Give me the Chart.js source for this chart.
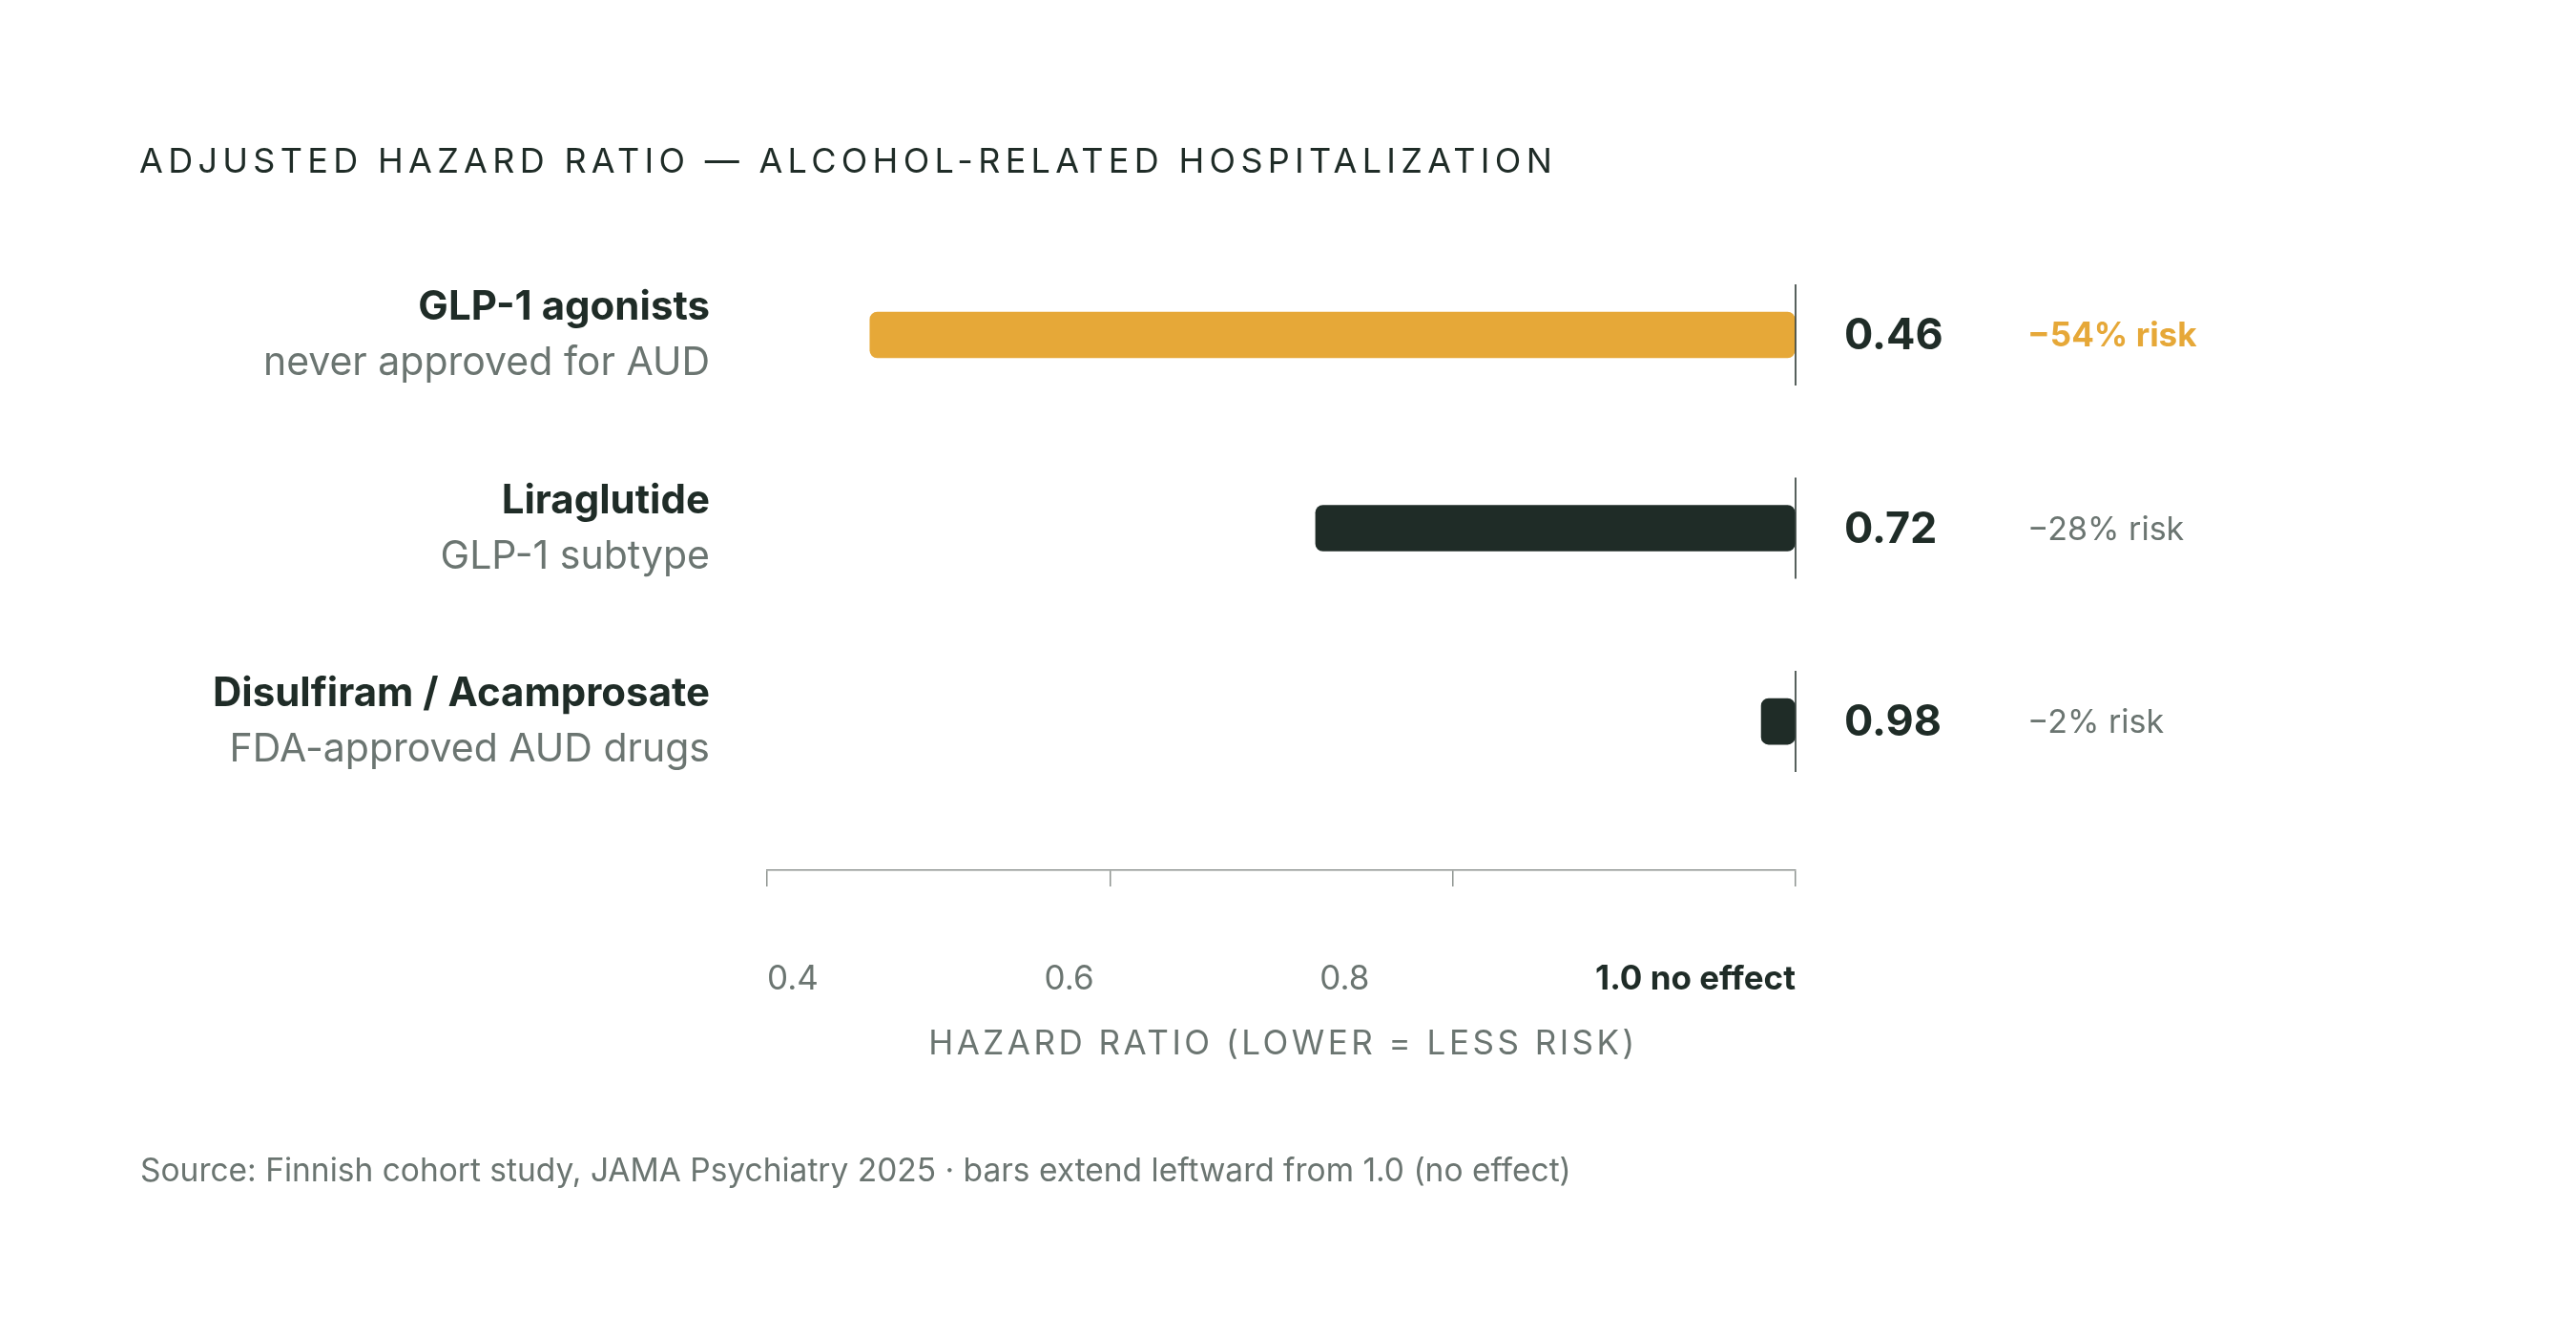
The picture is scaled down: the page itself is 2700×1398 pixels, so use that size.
<!DOCTYPE html>
<html>
<head>
<meta charset="utf-8">
<script src="https://cdn.jsdelivr.net/npm/chart.js@4.4.1/dist/chart.umd.min.js"></script>
<style>
  html, body { margin: 0; padding: 0; background: #ffffff; }
  #wrap { width: 2700px; height: 1398px; position: relative; }
  canvas { display: block; }
</style>
</head>
<body>
<div id="wrap"><canvas id="c" width="2700" height="1398"></canvas></div>
<script>
// ---- data ----
const categories = ['GLP-1 agonists', 'Liraglutide', 'Disulfiram / Acamprosate'];
const subtitles = ['never approved for AUD', 'GLP-1 subtype', 'FDA-approved AUD drugs'];
const hazardRatios = [0.46, 0.72, 0.98];
const riskLabels = ['\u221254% risk', '\u221228% risk', '\u22122% risk'];
const tickValues = [0.4, 0.6, 0.8, 1.0];
const tickLabels = ['0.4', '0.6', '0.8', '1.0 no effect'];
const noEffect = 1.0;
const titleText = 'ADJUSTED HAZARD RATIO \u2014 ALCOHOL-RELATED HOSPITALIZATION';
const axisTitleText = 'HAZARD RATIO (LOWER = LESS RISK)';
const sourceText = 'Source: Finnish cohort study, JAMA Psychiatry 2025 \u00b7 bars extend leftward from 1.0 (no effect)';

// ---- styles ----
const ORANGE = '#E6A838';
const DARK = '#1F2C27';
const GREY = '#6B7571';
const AXIS = '#8E9490';
const FONT = 'Inter, "DejaVu Sans", sans-serif';

function setSpacing(ctx, px) {
  if ('letterSpacing' in ctx) ctx.letterSpacing = px + 'px';
}

const textPlugin = {
  id: 'textPlugin',
  afterDatasetsDraw(chart) {
    const { ctx, scales } = chart;
    const xs = scales.x, ys = scales.y;
    const xRef = xs.getPixelForValue(noEffect);
    ctx.save();
    ctx.strokeStyle = DARK;
    ctx.lineWidth = 1.5;
    hazardRatios.forEach((v, i) => {
      const yc = ys.getPixelForValue(i);
      ctx.beginPath();
      ctx.moveTo(xRef, yc - 53);
      ctx.lineTo(xRef, yc + 53);
      ctx.stroke();
    });
    ctx.restore();
  },
  afterDraw(chart) {
    const { ctx, scales, chartArea } = chart;
    const xs = scales.x, ys = scales.y;
    const xRef = xs.getPixelForValue(noEffect);
    ctx.save();
    ctx.textBaseline = 'alphabetic';

    // Title
    ctx.fillStyle = DARK;
    ctx.font = '400 36px ' + FONT;
    ctx.textAlign = 'left';
    setSpacing(ctx, 5.3);
    ctx.fillText(titleText, 146, 181);
    setSpacing(ctx, 0);

    // Row labels, values, risk
    categories.forEach((name, i) => {
      const yc = ys.getPixelForValue(i);
      ctx.textAlign = 'right';
      ctx.fillStyle = DARK;
      ctx.font = '700 42px ' + FONT;
      ctx.fillText(name, 744, yc - 16);
      ctx.fillStyle = GREY;
      ctx.font = '400 41px ' + FONT;
      ctx.fillText(subtitles[i], 744, yc + 42);

      ctx.textAlign = 'left';
      ctx.fillStyle = DARK;
      ctx.font = '700 45px ' + FONT;
      ctx.fillText(hazardRatios[i].toFixed(2), xRef + 51, yc + 15);

      if (i === 0) {
        ctx.fillStyle = ORANGE;
        ctx.font = '700 35px ' + FONT;
      } else {
        ctx.fillStyle = GREY;
        ctx.font = '400 34px ' + FONT;
      }
      ctx.fillText(riskLabels[i], xRef + 243, yc + 12);
    });

    // Tick labels (spread between axis ends)
    const fonts = tickLabels.map((t, i) => (i === tickLabels.length - 1 ? '700 35px ' : '400 35px ') + FONT);
    const widths = tickLabels.map((t, i) => { ctx.font = fonts[i]; return ctx.measureText(t).width; });
    const total = widths.reduce((a, b) => a + b, 0);
    const gap = (chartArea.right - chartArea.left - total) / (tickLabels.length - 1);
    let cx = chartArea.left;
    ctx.textAlign = 'left';
    tickLabels.forEach((t, i) => {
      ctx.font = fonts[i];
      ctx.fillStyle = i === tickLabels.length - 1 ? DARK : GREY;
      ctx.fillText(t, cx, 1037);
      cx += widths[i] + gap;
    });

    // Axis title
    ctx.font = '400 35px ' + FONT;
    ctx.fillStyle = GREY;
    setSpacing(ctx, 3.5);
    ctx.textAlign = 'center';
    ctx.fillText(axisTitleText, (chartArea.left + chartArea.right) / 2 + 2, 1105);
    setSpacing(ctx, 0);

    // Source
    ctx.textAlign = 'left';
    ctx.font = '400 33.5px ' + FONT;
    ctx.fillStyle = GREY;
    ctx.fillText(sourceText, 147, 1238);
    ctx.restore();
  }
};

function build() {
  const ctx = document.getElementById('c').getContext('2d');
  new Chart(ctx, {
    type: 'bar',
    data: {
      labels: categories,
      datasets: [{
        data: hazardRatios.map((v, i) => ({ x: v, y: i })),
        base: noEffect,
        backgroundColor: (c) => (c.dataIndex === 0 ? ORANGE : DARK),
        borderRadius: 8,
        borderSkipped: false,
        barThickness: 48
      }]
    },
    options: {
      indexAxis: 'y',
      responsive: false,
      animation: false,
      devicePixelRatio: 1,
      layout: { padding: { left: 804, right: 818, top: 249.75, bottom: 336 } },
      plugins: { legend: { display: false }, tooltip: { enabled: false }, title: { display: false } },
      scales: {
        x: {
          type: 'linear',
          position: 'bottom',
          min: 0.4,
          max: 1.0,
          offset: false,
          afterBuildTicks: (s) => { s.ticks = tickValues.map(v => ({ value: v })); },
          afterFit: (s) => { s.height = 150; },
          grid: { display: true, drawOnChartArea: false, drawTicks: true, tickLength: 17, color: AXIS, lineWidth: 1.5 },
          border: { display: true, color: AXIS, width: 1.5 },
          ticks: { display: false }
        },
        y: {
          type: 'linear',
          min: -0.5,
          max: 2.77,
          reverse: true,
          offset: false,
          display: false
        }
      }
    },
    plugins: [textPlugin]
  });
}

if (document.fonts && document.fonts.load) {
  Promise.all([
    document.fonts.load('400 36px Inter'),
    document.fonts.load('700 36px Inter')
  ]).then(build, build);
} else {
  build();
}
</script>
</body>
</html>
